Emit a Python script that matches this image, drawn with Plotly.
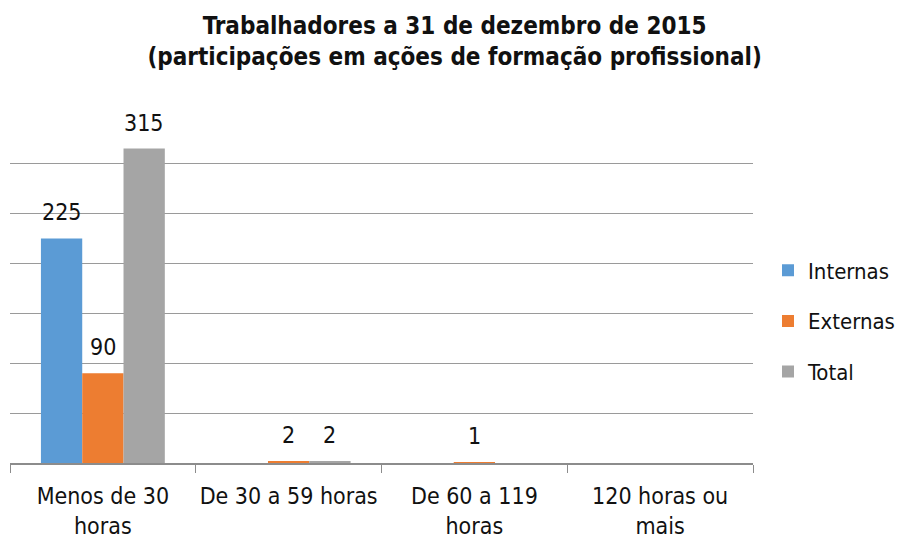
import plotly.graph_objects as go

categories = ["Menos de 30<br>horas", "De 30 a 59 horas", "De 60 a 119<br>horas", "120 horas ou<br>mais"]
internas = [225, 0, 0, None]
externas = [90, 2, 1, None]
total = [315, 2, None, None]

FONT = "DejaVu Sans Condensed, DejaVu Sans, sans-serif"

W, H = 904, 533
ML, MR, MT, MB = 2, 159, 105, 78
BARGAP = 0.333

series = [("Internas", internas, "#5B9BD5"),
          ("Externas", externas, "#ED7D31"),
          ("Total", total, "#A5A5A5")]

fig = go.Figure()
for i, (name, vals, col) in enumerate(series):
    fig.add_trace(go.Bar(x=categories, y=vals, name=name, marker_color=col,
                         marker_line_width=0, legendgroup=name))

# data labels as annotations placed above each bar
plot_w = W - ML - MR
plot_h = H - MT - MB
cat_w = plot_w / len(categories)
bar_w = cat_w * (1 - BARGAP) / len(series)
annotations = []
for i, (name, vals, col) in enumerate(series):
    off = (i - (len(series) - 1) / 2) * bar_w
    for c, v in zip(categories, vals):
        if v is not None and v > 0:
            annotations.append(dict(x=c, y=v, xref="x", yref="y", text=str(v),
                                    showarrow=False, xshift=off, yshift=26,
                                    yanchor="middle",
                                    font=dict(size=23, family=FONT, color="#111111")))

fig.update_layout(
    width=W, height=H,
    margin=dict(l=ML, r=MR, t=MT, b=MB, autoexpand=False),
    paper_bgcolor="white", plot_bgcolor="white",
    barmode="group", bargap=BARGAP, bargroupgap=0,
    font=dict(family=FONT, size=23, color="#111111"),
    title=dict(text="<b>Trabalhadores a 31 de dezembro de 2015<br>(participações em ações de formação profissional)</b>",
               x=0.494, xanchor="center", y=1 - 25.5 / H, yanchor="middle", yref="container",
               font=dict(size=24, family=FONT, color="#111111")),
    legend=dict(x=1.0 + 15 / plot_w, xanchor="left", y=0.5 - 33 / plot_h, yanchor="middle", xref="paper",
                font=dict(size=22, family=FONT), itemwidth=30, tracegroupgap=19,
                traceorder="grouped", bgcolor="rgba(0,0,0,0)"),
    annotations=annotations,
    showlegend=True,
)
fig.update_xaxes(showline=True, linecolor="#8c8c8c", linewidth=1.5, ticks="outside",
                 tickson="boundaries", ticklen=8, tickcolor="#8c8c8c",
                 ticklabelstandoff=12, tickangle=0, automargin=False,
                 tickfont=dict(size=23, family=FONT, color="#111111"))
fig.update_yaxes(range=[0, 350.6], tickvals=[50, 100, 150, 200, 250, 300, 350],
                 showticklabels=False, showgrid=True, automargin=False,
                 gridcolor="#9a9a9a", gridwidth=1, zeroline=False)

fig.write_html("out.html")
